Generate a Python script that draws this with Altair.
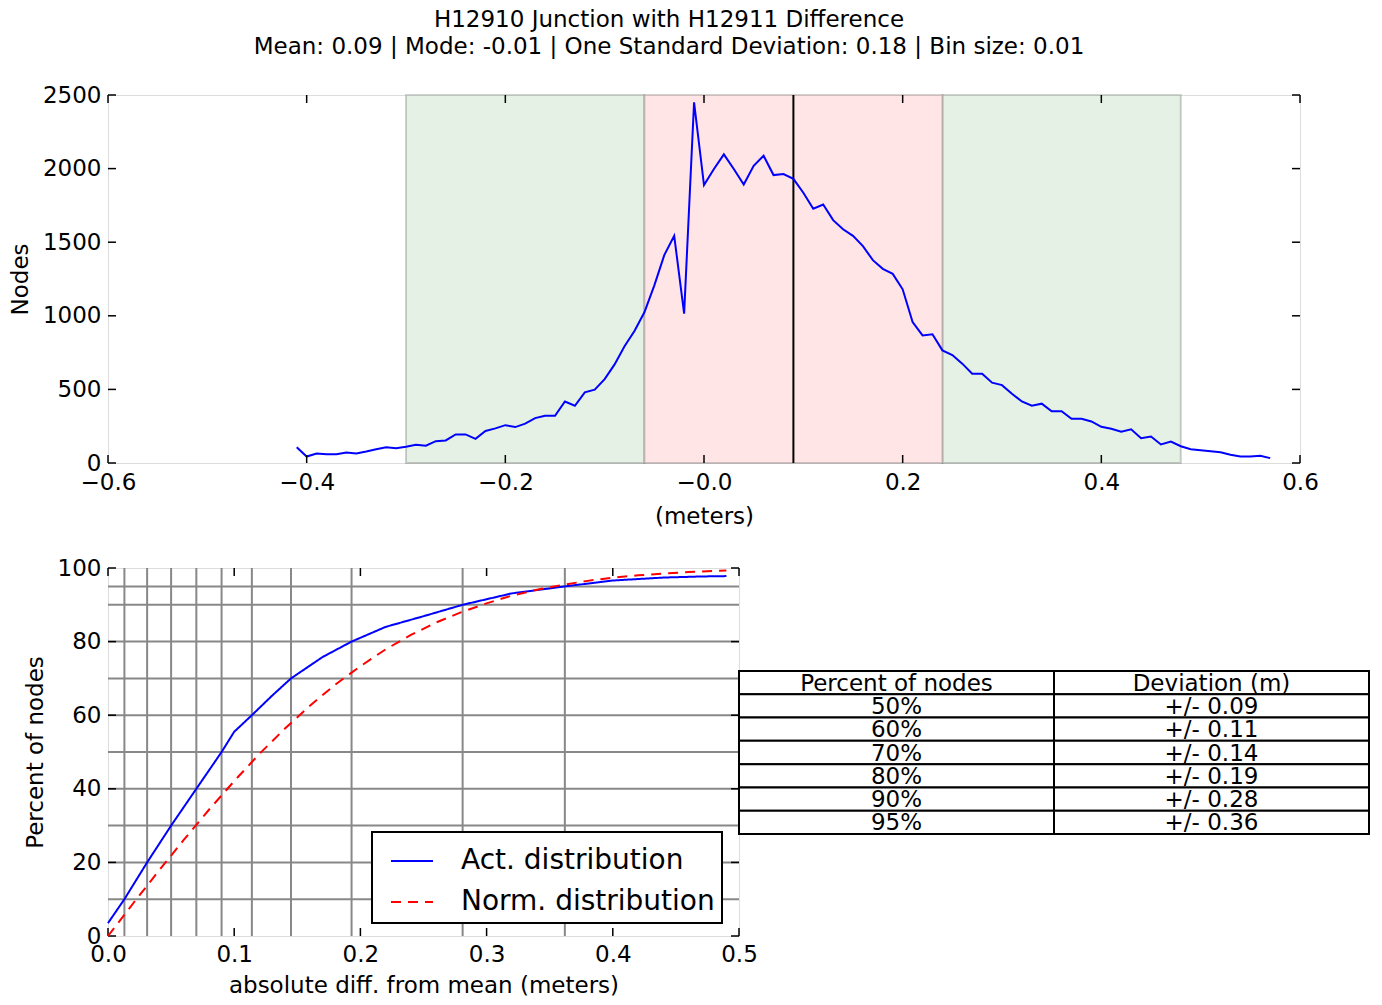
import altair as alt
import pandas as pd

# ---------------- data ----------------
title_lines = [
    "H12910 Junction with H12911 Difference",
    "Mean: 0.09 | Mode: -0.01 | One Standard Deviation: 0.18 | Bin size: 0.01",
]

hist_x = [
    -0.41, -0.40, -0.39, -0.38, -0.37, -0.36, -0.35, -0.34, -0.33, -0.32,
    -0.31, -0.30, -0.29, -0.28, -0.27, -0.26, -0.25, -0.24, -0.23, -0.22,
    -0.21, -0.20, -0.19, -0.18, -0.17, -0.16, -0.15, -0.14, -0.13, -0.12,
    -0.11, -0.10, -0.09, -0.08, -0.07, -0.06, -0.05, -0.04, -0.03, -0.02,
    -0.01, 0.00, 0.01, 0.02, 0.03, 0.04, 0.05, 0.06, 0.07, 0.08,
    0.09, 0.10, 0.11, 0.12, 0.13, 0.14, 0.15, 0.16, 0.17, 0.18,
    0.19, 0.20, 0.21, 0.22, 0.23, 0.24, 0.25, 0.26, 0.27, 0.28,
    0.29, 0.30, 0.31, 0.32, 0.33, 0.34, 0.35, 0.36, 0.37, 0.38,
    0.39, 0.40, 0.41, 0.42, 0.43, 0.44, 0.45, 0.46, 0.47, 0.48,
    0.49, 0.50, 0.51, 0.52, 0.53, 0.54, 0.55, 0.56, 0.57,
]
hist_nodes = [
    107, 44, 65, 60, 60, 71, 65, 78, 94, 107,
    101, 110, 124, 117, 148, 153, 194, 194, 164, 218,
    235, 257, 244, 267, 305, 321, 321, 418, 389, 480,
    498, 570, 670, 793, 897, 1024, 1207, 1412, 1543, 1015,
    2450, 1888, 1997, 2097, 1997, 1892, 2019, 2087, 1956, 1963,
    1930, 1836, 1727, 1756, 1650, 1588, 1543, 1473, 1378, 1319,
    1285, 1180, 958, 867, 874, 765, 733, 675, 607, 607,
    546, 529, 471, 418, 389, 403, 352, 352, 301, 301,
    282, 246, 233, 212, 229, 169, 180, 126, 146, 114,
    94, 87, 80, 73, 56, 44, 44, 49, 33,
]

band_start = [-0.30, -0.06, 0.24]
band_end = [-0.06, 0.24, 0.48]
band_kind = ["outer", "inner", "outer"]
mean_value = [0.09]

top_xticks = [-0.6, -0.4, -0.2, 0.0, 0.2, 0.4, 0.6]
top_yticks = [0, 500, 1000, 1500, 2000, 2500]

act_x = [0.0, 0.013, 0.031, 0.050, 0.070, 0.090, 0.100, 0.114, 0.130, 0.145,
         0.170, 0.193, 0.220, 0.250, 0.281, 0.320, 0.362, 0.400, 0.440, 0.470, 0.490]
act_pct = [3.5, 10, 20, 30, 40, 50, 55.5, 60, 65.3, 70,
           75.8, 80, 84.0, 86.9, 90, 93.1, 95, 96.6, 97.4, 97.7, 97.8]

norm_x = [0.0, 0.02, 0.04, 0.06, 0.08, 0.10, 0.12, 0.14, 0.16, 0.18, 0.20, 0.22, 0.24,
          0.26, 0.28, 0.30, 0.32, 0.34, 0.36, 0.38, 0.40, 0.42, 0.44, 0.46, 0.48, 0.49]
norm_pct = [0.0, 8.9, 17.6, 26.1, 34.3, 42.1, 49.5, 56.3, 62.6, 68.3, 73.3, 77.9, 81.8,
            85.2, 88.0, 90.4, 92.5, 94.1, 95.4, 96.5, 97.4, 98.0, 98.5, 98.9, 99.2, 99.3]

series_names = ["Act. distribution", "Norm. distribution"]

grid_x = [0.013, 0.031, 0.050, 0.070, 0.090, 0.114, 0.145, 0.193, 0.281, 0.362]
grid_y = [10, 20, 30, 40, 50, 60, 70, 80, 90, 95]
bot_xticks = [0.0, 0.1, 0.2, 0.3, 0.4, 0.5]
bot_yticks = [0, 20, 40, 60, 80, 100]

table_header = ["Percent of nodes", "Deviation (m)"]
table_pct = ["50%", "60%", "70%", "80%", "90%", "95%"]
table_dev = ["+/- 0.09", "+/- 0.11", "+/- 0.14", "+/- 0.19", "+/- 0.28", "+/- 0.36"]

# ---------------- layout constants ----------------
FONT = "DejaVu Sans"
FS = 23
W1, H1 = 1192, 368
W2, H2 = 631, 368
WT = 630
TICK = 8
GAP = 105

# ---------------- top chart ----------------
hist_df = pd.DataFrame({"x": hist_x, "nodes": hist_nodes})
band_df = pd.DataFrame({"start": band_start, "end": band_end, "kind": band_kind})
mean_df = pd.DataFrame({"x": mean_value})
txt_df = pd.DataFrame({"x": top_xticks})
tyt_df = pd.DataFrame({"y": top_yticks})

xs1 = alt.Scale(domain=[-0.6, 0.6], nice=False, zero=False)
ys1 = alt.Scale(domain=[0, 2500], nice=False)

ax1x = alt.Axis(values=top_xticks, title="(meters)", ticks=False, domain=False, grid=False,
                labelFontSize=FS, labelPadding=8, titleFontSize=FS, titlePadding=11,
                titleFontWeight="normal", labelFlush=False, labelOverlap=False,
                labelExpr="abs(datum.value) < 1e-9 ? '\u22120.0' : format(datum.value, '.1f')")
ax1y = alt.Axis(values=top_yticks, title="Nodes", ticks=False, domain=False, grid=False,
                labelFontSize=FS, labelPadding=7, titleFontSize=FS, titlePadding=10,
                titleFontWeight="normal", labelFlush=False, labelOverlap=False, format="d")

X1 = lambda f: alt.X(f, type="quantitative", scale=xs1, axis=ax1x)
Y1 = lambda f: alt.Y(f, type="quantitative", scale=ys1, axis=ax1y)

band_outer = alt.Chart(band_df).transform_filter(alt.datum.kind == "outer").mark_rect(
    fill="#e5f1e5", stroke="black", strokeOpacity=0.18, strokeWidth=2).encode(
    x=X1("start"), x2="end", y=alt.value(0), y2=alt.value(H1))
band_inner = alt.Chart(band_df).transform_filter(alt.datum.kind == "inner").mark_rect(
    fill="#ffe5e5", stroke="black", strokeOpacity=0.18, strokeWidth=2).encode(
    x=X1("start"), x2="end", y=alt.value(0), y2=alt.value(H1))
mean_rule = alt.Chart(mean_df).mark_rule(color="black", strokeWidth=2).encode(x=X1("x"))
hist_line = alt.Chart(hist_df).mark_line(color="#0000ff", strokeWidth=2).encode(
    x=X1("x"), y=Y1("nodes"))
t1_bot = alt.Chart(txt_df).mark_rule(color="black", strokeWidth=1.5).encode(
    x=X1("x"), y=alt.value(H1 - TICK), y2=alt.value(H1))
t1_top = alt.Chart(txt_df).mark_rule(color="black", strokeWidth=1.5).encode(
    x=X1("x"), y=alt.value(0), y2=alt.value(TICK))
t1_left = alt.Chart(tyt_df).mark_rule(color="black", strokeWidth=1.5).encode(
    y=Y1("y"), x=alt.value(0), x2=alt.value(TICK))
t1_right = alt.Chart(tyt_df).mark_rule(color="black", strokeWidth=1.5).encode(
    y=Y1("y"), x=alt.value(W1 - TICK), x2=alt.value(W1))

top = alt.layer(band_outer, band_inner, mean_rule, hist_line,
                t1_bot, t1_top, t1_left, t1_right).properties(
    width=W1, height=H1,
    title=alt.TitleParams(text=title_lines, fontSize=FS, fontWeight="normal", font=FONT,
                          lineHeight=27, anchor="middle", frame="group", dx=-35, offset=25,
                          color="black"),
)

# ---------------- bottom chart ----------------
cdf_df = pd.concat([
    pd.DataFrame({"x": act_x, "pct": act_pct, "series": series_names[0]}),
    pd.DataFrame({"x": norm_x, "pct": norm_pct, "series": series_names[1]}),
])
gx_df = pd.DataFrame({"x": grid_x})
gy_df = pd.DataFrame({"y": grid_y})
bxt_df = pd.DataFrame({"x": bot_xticks})
byt_df = pd.DataFrame({"y": bot_yticks})

xs2 = alt.Scale(domain=[0, 0.5], nice=False)
ys2 = alt.Scale(domain=[0, 100], nice=False)
ax2x = alt.Axis(values=bot_xticks, title="absolute diff. from mean (meters)", ticks=False,
                domain=False, grid=False, labelFontSize=FS, labelPadding=7, titleFontSize=FS,
                titlePadding=8, titleFontWeight="normal", labelFlush=False, labelOverlap=False,
                format=".1f")
ax2y = alt.Axis(values=bot_yticks, title="Percent of nodes", ticks=False, domain=False,
                grid=False, labelFontSize=FS, labelPadding=7, titleFontSize=FS, titlePadding=10,
                titleFontWeight="normal", labelFlush=False, labelOverlap=False)
X2 = lambda f: alt.X(f, type="quantitative", scale=xs2, axis=ax2x)
Y2 = lambda f: alt.Y(f, type="quantitative", scale=ys2, axis=ax2y)

gridx = alt.Chart(gx_df).mark_rule(color="#888888", strokeWidth=2).encode(
    x=X2("x"), y=alt.value(0), y2=alt.value(H2))
gridy = alt.Chart(gy_df).mark_rule(color="#888888", strokeWidth=2).encode(
    y=Y2("y"), x=alt.value(0), x2=alt.value(W2))

# legend position is relative to the top-level origin (top plot's upper-left corner)
leg = alt.Legend(title=None, orient="none", legendX=264, legendY=H1 + GAP + 264,
                 labelFontSize=28, labelFont=FONT, labelColor="black", labelLimit=500,
                 symbolType="stroke", symbolSize=1764, symbolStrokeWidth=2, padding=7,
                 strokeColor="black", fillColor="white", labelOffset=27, rowPadding=5,
                 symbolOffset=11)
cdf_lines = alt.Chart(cdf_df).mark_line(strokeWidth=2).encode(
    x=X2("x"), y=Y2("pct"),
    color=alt.Color("series:N", scale=alt.Scale(domain=series_names,
                                                range=["#0000ff", "#ff0000"]), legend=leg),
    strokeDash=alt.StrokeDash("series:N", scale=alt.Scale(domain=series_names,
                                                          range=[[1, 0], [10, 7]]), legend=leg),
)
t2_bot = alt.Chart(bxt_df).mark_rule(color="black", strokeWidth=1.5).encode(
    x=X2("x"), y=alt.value(H2 - TICK), y2=alt.value(H2))
t2_top = alt.Chart(bxt_df).mark_rule(color="black", strokeWidth=1.5).encode(
    x=X2("x"), y=alt.value(0), y2=alt.value(TICK))
t2_left = alt.Chart(byt_df).mark_rule(color="black", strokeWidth=1.5).encode(
    y=Y2("y"), x=alt.value(0), x2=alt.value(TICK))
t2_right = alt.Chart(byt_df).mark_rule(color="black", strokeWidth=1.5).encode(
    y=Y2("y"), x=alt.value(W2 - TICK), x2=alt.value(W2))

bottom = alt.layer(gridx, gridy, t2_bot, t2_top, t2_left, t2_right, cdf_lines).properties(
    width=W2, height=H2)

# ---------------- table ----------------
rows = []
for c, h in enumerate(table_header):
    rows.append({"c0": c, "c1": c + 1, "r0": 0, "r1": 1, "cm": c + 0.5, "rm": 0.5, "t": h})
for i, (p, d) in enumerate(zip(table_pct, table_dev)):
    for c, t in enumerate([p, d]):
        rows.append({"c0": c, "c1": c + 1, "r0": i + 1, "r1": i + 2, "cm": c + 0.5,
                     "rm": i + 1.5, "t": t})
tab_df = pd.DataFrame(rows)
row_px = 23.29
top_px = 103
txs = alt.Scale(domain=[0, 2], nice=False, zero=False)
tys = alt.Scale(domain=[-top_px / row_px, (H2 - top_px) / row_px], nice=False, zero=False,
                reverse=True)
cells = alt.Chart(tab_df).mark_rect(fill="white", stroke="black", strokeWidth=2).encode(
    x=alt.X("c0:Q", scale=txs, axis=None), x2="c1",
    y=alt.Y("r0:Q", scale=tys, axis=None), y2="r1")
texts = alt.Chart(tab_df).mark_text(fontSize=FS, font=FONT, color="black", baseline="middle",
                                    align="center", dy=1).encode(
    x=alt.X("cm:Q", scale=txs, axis=None), y=alt.Y("rm:Q", scale=tys, axis=None), text="t:N")
table = alt.layer(cells, texts).properties(
    width=WT, height=H2, view=alt.ViewBackground(stroke="transparent"))

lower = alt.hconcat(bottom, table, spacing=0, bounds="flush")

chart = alt.vconcat(top, lower, spacing=GAP, bounds="flush").properties(
    padding={"left": 0, "top": 0, "right": 0, "bottom": -1}
).configure_view(stroke="black", strokeWidth=2).configure(
    font=FONT
).configure_axis(
    labelColor="black", titleColor="black", labelFont=FONT, titleFont=FONT
).configure_legend(strokeWidth=2)

chart.save("out.html", embed_options={"renderer": "svg", "actions": False})
